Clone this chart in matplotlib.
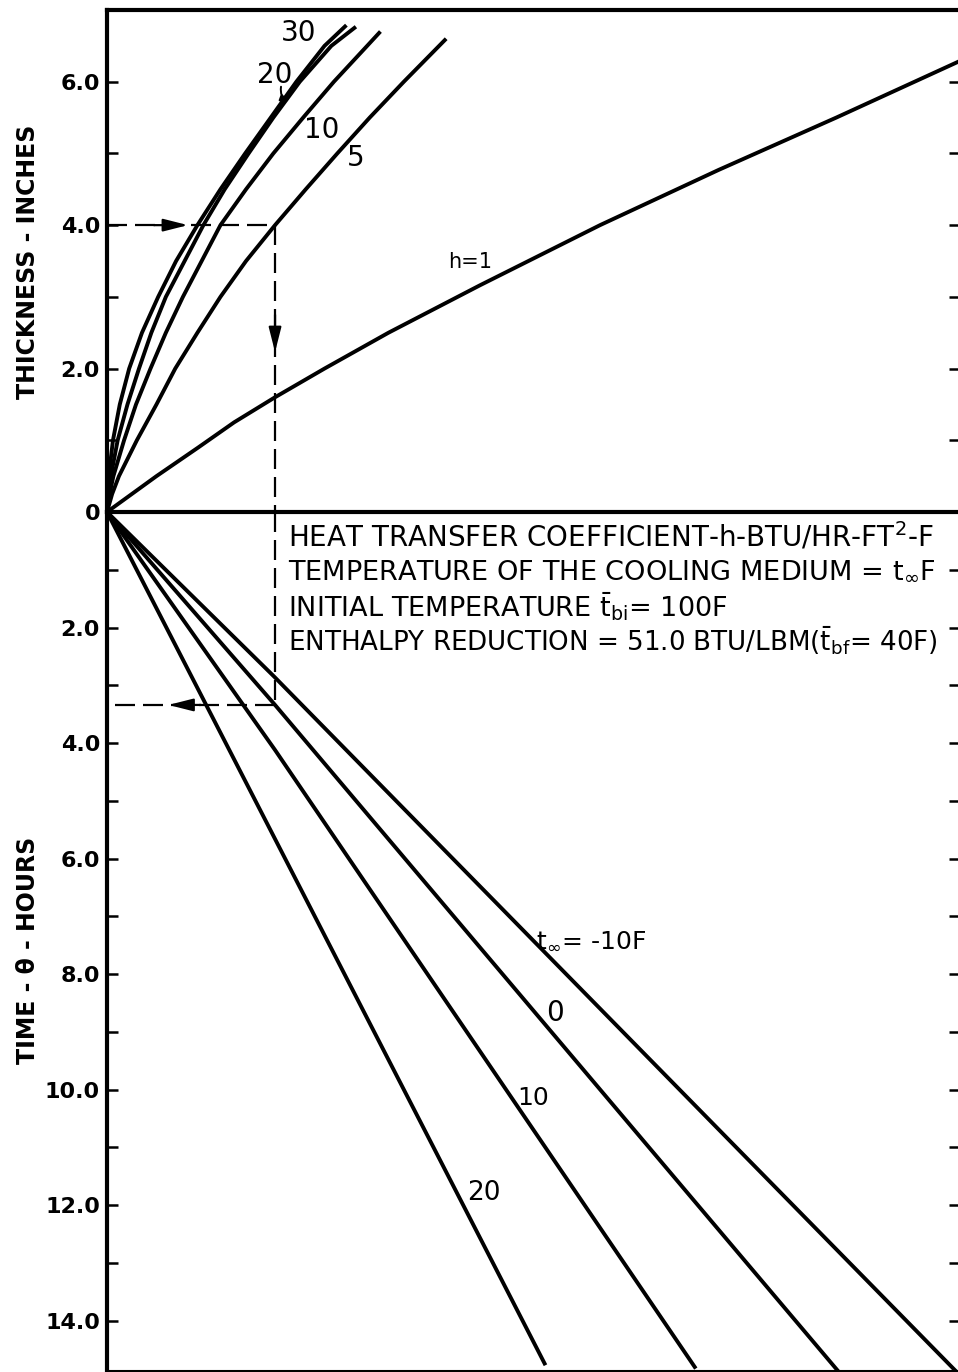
import matplotlib
matplotlib.use('Agg')
import matplotlib.pyplot as plt

# Nomogram: the horizontal scale has no units (0..10 across the frame).
# Upper half: slab thickness (in) for each heat transfer coefficient h.
x_h30 = [0, 0.005, 0.02, 0.07, 0.15, 0.26, 0.41, 0.60, 0.81, 1.06, 1.33,
         1.62, 1.92, 2.22, 2.55, 2.79]
thick_h30 = [0, 0.25, 0.5, 1.0, 1.5, 2.0, 2.5, 3.0, 3.5, 4.0, 4.5, 5.0,
             5.5, 6.0, 6.5, 6.77]
x_h20 = [0, 0.015, 0.045, 0.125, 0.24, 0.375, 0.52, 0.69, 0.91, 1.13, 1.38,
         1.66, 1.95, 2.26, 2.63, 2.90]
thick_h20 = [0, 0.25, 0.5, 1.0, 1.5, 2.0, 2.5, 3.0, 3.5, 4.0, 4.5, 5.0,
             5.5, 6.0, 6.5, 6.75]
x_h10 = [0, 0.03, 0.075, 0.20, 0.34, 0.51, 0.69, 0.89, 1.11, 1.33, 1.63,
         1.95, 2.30, 2.66, 3.05, 3.19]
thick_h10 = [0, 0.25, 0.5, 1.0, 1.5, 2.0, 2.5, 3.0, 3.5, 4.0, 4.5, 5.0,
             5.5, 6.0, 6.5, 6.68]
x_h5 = [0, 0.06, 0.14, 0.35, 0.58, 0.80, 1.06, 1.33, 1.63, 1.97, 2.33,
        2.70, 3.08, 3.48, 3.96]
thick_h5 = [0, 0.25, 0.5, 1.0, 1.5, 2.0, 2.5, 3.0, 3.5, 4.0, 4.5, 5.0,
            5.5, 6.0, 6.58]
x_h1 = [0, 0.58, 1.07, 1.49, 1.97, 2.55, 3.30, 4.37, 5.78, 7.17, 8.55, 10.0]
thick_h1 = [0, 0.5, 0.9, 1.25, 1.6, 2.0, 2.5, 3.16, 4.0, 4.77, 5.5, 6.29]

# Lower half: freezing time (hours) for each cooling medium temperature
x_tm10 = [0, 1.96, 9.95]
time_tm10 = [0, 2.85, 14.87]
x_t0 = [0, 1.97, 8.57]
time_t0 = [0, 3.34, 14.87]
x_t10 = [0, 1.97, 6.89]
time_t10 = [0, 4.12, 14.80]
x_t20 = [0, 5.13]
time_t20 = [0, 14.74]

# worked example drawn with dashed lines (4.0 in, h = 5, t = 0F)
ex_thickness = 4.0
ex_x = 1.97
ex_time = 3.34

thick_ticks = [0, 1, 2, 3, 4, 5, 6]
thick_labels = ['0', '', '2.0', '', '4.0', '', '6.0']
time_ticks = list(range(1, 15))
time_labels = ['', '2.0', '', '4.0', '', '6.0', '', '8.0', '', '10.0',
               '', '12.0', '', '14.0']

notes = [
    'HEAT TRANSFER COEFFICIENT-h-BTU/HR-FT$^{2}$-F',
    'TEMPERATURE OF THE COOLING MEDIUM = t$_{\\infty}$F',
    'INITIAL TEMPERATURE $\\bar{t}_{bi}$= 100F',
    'ENTHALPY REDUCTION = 51.0 BTU/LBM($\\bar{t}_{bf}$= 40F)',
]
note_sizes = [20, 19.5, 19.5, 18.8]


def arrow_head(ax, tip, tail, length=1.5, width=0.38):
    ax.annotate('', xy=tip, xytext=tail,
                arrowprops=dict(arrowstyle='-|>,head_length=%s,head_width=%s'
                                % (length, width),
                                color='black', lw=1.6,
                                shrinkA=0, shrinkB=0))


def style_axis(ax, ticks, labels):
    ax.set_xlim(0, 10)
    ax.set_xticks([])
    ax.set_yticks(ticks)
    ax.set_yticklabels(labels, fontsize=16, fontweight='bold')
    ax.tick_params(axis='y', direction='in', length=8, width=1.8,
                   right=True, pad=5)
    ax.patch.set_visible(False)
    for s in ax.spines.values():
        s.set_linewidth(3)


def main():
    plt.rcParams['mathtext.default'] = 'regular'
    W, H = 958.0, 1372.0
    fig = plt.figure(figsize=(W / 100, H / 100), dpi=100)
    ax_top = fig.add_axes([107 / W, (H - 512) / H, 853 / W, 502 / H])
    ax_bot = fig.add_axes([107 / W, (H - 1371) / H, 853 / W, 859 / H])

    lw = 2.8
    for xs, ys in [(x_h30, thick_h30), (x_h20, thick_h20),
                   (x_h10, thick_h10), (x_h5, thick_h5), (x_h1, thick_h1)]:
        ax_top.plot(xs, ys, color='black', lw=lw, solid_joinstyle='round')
    for xs, ys in [(x_tm10, time_tm10), (x_t0, time_t0),
                   (x_t10, time_t10), (x_t20, time_t20)]:
        ax_bot.plot(xs, ys, color='black', lw=lw)

    style_axis(ax_top, thick_ticks, thick_labels)
    ax_top.set_ylim(0, 7.0)
    style_axis(ax_bot, time_ticks, time_labels)
    ax_bot.set_ylim(14.87, 0)
    ax_bot.spines['top'].set_visible(False)
    ax_bot.spines['bottom'].set_linewidth(1.5)
    ax_top.set_zorder(2)

    # dashed example path
    dash = (0, (9, 3.6))
    ax_top.plot([0, ex_x], [ex_thickness, ex_thickness], color='black',
                lw=1.6, ls=dash)
    ax_top.plot([ex_x, ex_x], [ex_thickness, 0], color='black', lw=1.6, ls=dash)
    ax_bot.plot([ex_x, ex_x], [0, ex_time], color='black', lw=1.6, ls=dash)
    ax_bot.plot([ex_x, 0], [ex_time, ex_time], color='black', lw=1.6, ls=dash)
    arrow_head(ax_top, (0.95, ex_thickness), (0.55, ex_thickness))
    arrow_head(ax_top, (ex_x, 2.23), (ex_x, 2.75))
    arrow_head(ax_bot, (0.72, ex_time), (1.1, ex_time))

    # curve labels
    ax_top.text(2.25, 6.68, '30', fontsize=20, ha='center', va='center')
    ax_top.text(1.96, 6.09, '20', fontsize=20, ha='center', va='center')
    ax_top.annotate('', xy=(2.14, 5.73), xytext=(2.04, 5.93),
                    arrowprops=dict(arrowstyle='-|>,head_length=0.5,head_width=0.2',
                                    connectionstyle='arc3,rad=0.4',
                                    color='black', lw=1.4,
                                    shrinkA=0, shrinkB=0))
    ax_top.text(2.52, 5.32, '10', fontsize=20, ha='center', va='center')
    ax_top.text(2.91, 4.93, '5', fontsize=20, ha='center', va='center')
    ax_top.text(4.26, 3.48, 'h=1', fontsize=15, ha='center', va='center')

    ax_bot.text(5.68, 7.42, 't$_{\\infty}$= -10F', fontsize=18,
                ha='center', va='center')
    ax_bot.text(5.25, 8.68, '0', fontsize=20, ha='center', va='center')
    ax_bot.text(4.99, 10.15, '10', fontsize=18, ha='center', va='center')
    ax_bot.text(4.42, 11.79, '20', fontsize=19, ha='center', va='center')

    for i, line in enumerate(notes):
        ax_bot.text(2.12, 0.43 + 0.6 * i, line, fontsize=note_sizes[i],
                    ha='left', va='center')

    fig.text(28 / W, 1 - 262 / H, 'THICKNESS - INCHES', rotation=90,
             fontsize=17, fontweight='bold', ha='center', va='center')
    fig.text(28 / W, 1 - 950 / H, 'TIME - \u03b8 - HOURS', rotation=90,
             fontsize=17, fontweight='bold', ha='center', va='center')

    fig.savefig('out.png', dpi=100)


if __name__ == '__main__':
    main()
